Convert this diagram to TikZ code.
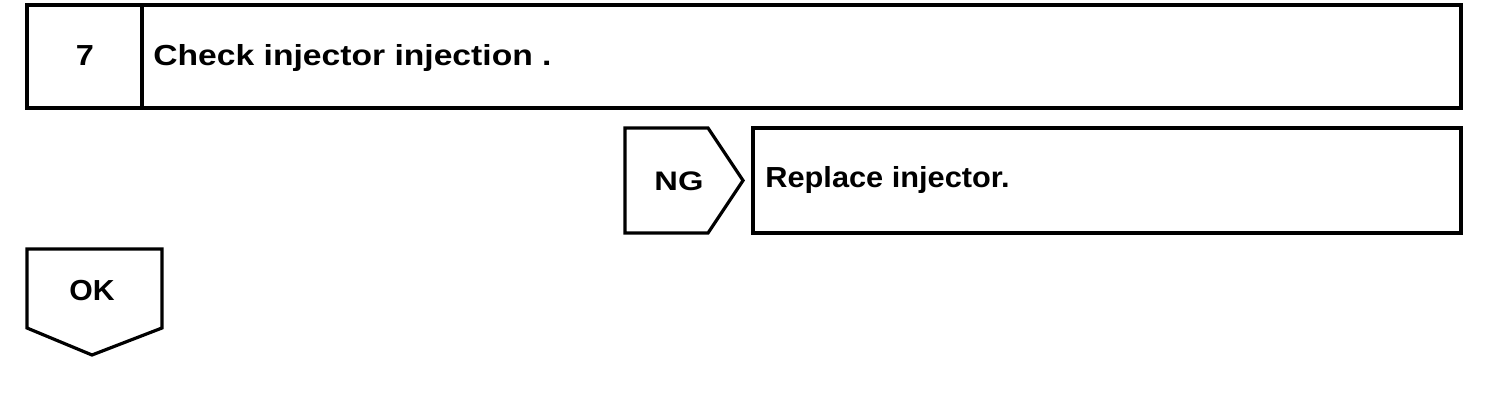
\documentclass[tikz,border=0pt]{standalone}
\usepackage{fontspec}
\usepackage{graphicx}
\setmainfont{Liberation Sans}
\begin{document}
\begin{tikzpicture}[x=0.5pt,y=-0.5pt,
  box/.style={draw,line width=1.6pt,line join=miter},
  big/.style={font=\bfseries\fontsize{14.5}{16}\selectfont,inner sep=0pt},
  mid/.style={font=\bfseries\fontsize{13.4}{15}\selectfont,inner sep=0pt}]
\useasboundingbox (0,0) rectangle (1504,410);
% top step box
\draw[box] (27,5) rectangle (1461,108);
\draw[box] (142,5) -- (142,108);
\node[big,anchor=base] (num) at (85,65.5) {\scalebox{1.12}[1]{7}};
\node[big,anchor=base west] (title) at (153,65.5) {\scalebox{1.16}[1]{Check injector injection .}};
% NG arrow
\coordinate (ngA) at (625,128);
\coordinate (ngB) at (708,128);
\coordinate (ngT) at (743,180.5);
\coordinate (ngC) at (708,233);
\coordinate (ngD) at (625,233);
\draw[box] (ngA) -- (ngB) -- (ngT) -- (ngC) -- (ngD) -- cycle;
\node[mid,anchor=base] (ng) at (679,191) {\scalebox{1.22}[1]{NG}};
% replace box
\draw[box] (753,128) rectangle (1461,233);
\node[big,anchor=base west] (repl) at (765,188) {\scalebox{1.06}[1]{Replace injector.}};
% OK arrow
\coordinate (okA) at (27,249);
\coordinate (okB) at (162,249);
\coordinate (okC) at (162,328);
\coordinate (okT) at (92,355);
\coordinate (okD) at (27,328);
\draw[box] (okA) -- (okB) -- (okC) -- (okT) -- (okD) -- cycle;
\node[big,anchor=base] (ok) at (92,301) {\scalebox{1.04}[1]{OK}};
\end{tikzpicture}
\end{document}
